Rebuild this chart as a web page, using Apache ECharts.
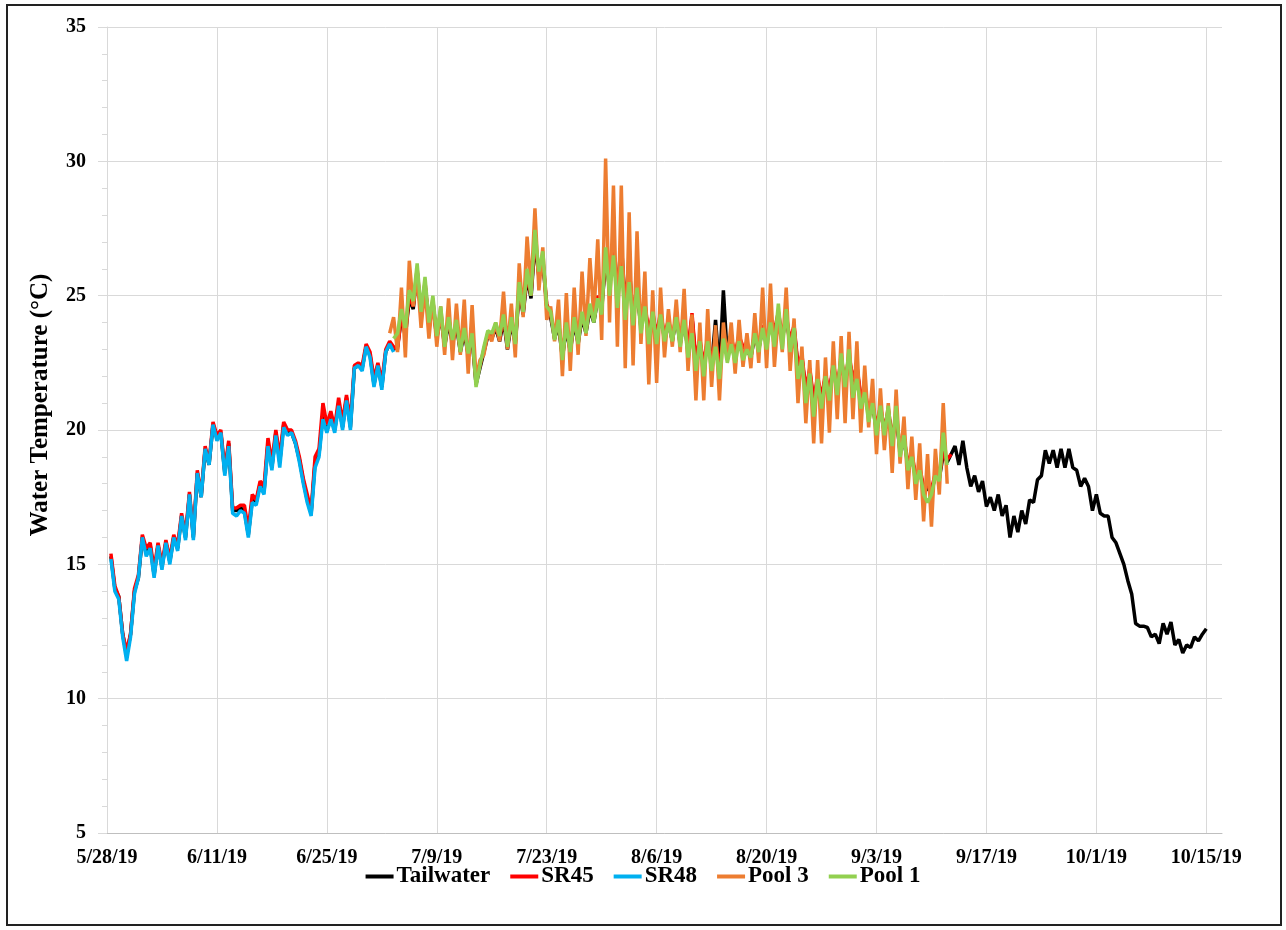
<!DOCTYPE html>
<html>
<head>
<meta charset="utf-8">
<script src="https://cdn.jsdelivr.net/npm/echarts@6/dist/echarts.min.js"></script>
<style>
html,body{margin:0;padding:0;background:#fff;}
#chart{width:1286px;height:930px;}
</style>
</head>
<body>
<div id="chart"></div>
<script>
// Day offsets are days since 5/28/19; samples every half day.
const baseDate = [2019, 4, 28];
const sampleStep = 0.5;
const xTickDays = [0, 14, 28, 42, 56, 70, 84, 98, 112, 126, 140];
const seriesNames = ['Tailwater', 'SR45', 'SR48', 'Pool 3', 'Pool 1'];
const seriesColors = ['#000000', '#ff0000', '#00b0f0', '#ed7d31', '#92d050'];

const tailwaterStart = 0.5;
const tailwater = [
  15.3,14.1,13.8,12.4,11.6,12.4,14.0,14.5,16.0,15.4,
  15.7,14.6,15.7,14.9,15.8,15.1,16.0,15.6,16.8,16.0,
  17.6,16.0,18.4,17.5,19.3,18.7,20.2,19.7,19.9,18.4,
  19.5,17.0,17.0,17.1,17.0,16.1,17.4,17.3,18.0,17.7,
  19.5,18.6,19.9,18.8,20.2,19.9,19.9,19.5,18.9,18.1,
  17.4,16.9,18.8,19.1,20.6,20.0,20.5,20.0,21.0,20.1,
  21.2,20.1,22.3,22.4,22.3,23.1,22.8,21.7,22.4,21.6,
  22.9,23.2,23.0,
  23.1,24.2,23.5,24.9,24.5,25.9,24.2,25.4,23.9,24.7,
  23.4,24.3,23.1,24.0,23.2,23.9,22.9,23.6,22.8,23.4,
  21.7,22.3,22.9,23.5,23.4,23.8,23.3,24.1,23.0,24.0,
  23.2,25.2,24.3,25.7,24.9,27.0,25.7,26.3,24.6,24.2,
  23.4,23.9,22.7,23.8,22.9,24.0,23.2,24.2,23.6,24.5,
  24.0,24.9,24.5,26.3,25.3,26.6,25.2,27.0,24.6,26.1,
  24.2,25.2,23.8,24.6,23.5,24.3,23.4,24.3,23.4,24.0,
  23.3,24.2,23.2,24.1,22.9,24.2,22.5,23.3,22.3,23.4,
  22.4,24.1,22.2,25.2,22.7,23.3,22.8,23.4,23.0,23.0,
  22.7,23.5,23.0,23.8,23.2,24.0,23.5,24.1,23.4,24.2,
  23.2,23.8,22.3,22.7,21.4,22.2,21.0,21.9,21.1,22.0,
  21.3,22.4,21.5,22.6,21.7,22.7,21.8,22.3,21.2,21.5,
  20.5,20.9,20.0,20.8,19.9,20.7,19.6,20.5,19.2,19.6,
  18.7,19.0,18.2,18.5,17.8,17.8,17.7,18.3,18.2,19.1,
  18.8,
  19.1,19.4,18.7,19.6,18.6,17.9,18.3,17.7,18.1,17.15,
  17.5,17.0,17.6,16.8,17.2,16.0,16.8,16.2,17.0,16.5,
  17.4,17.3,18.15,18.3,19.25,18.75,19.25,18.6,19.3,18.6,
  19.3,18.6,18.5,17.9,18.2,17.9,17.0,17.6,16.9,16.8,
  16.8,16.0,15.8,15.4,15.0,14.4,13.9,12.8,12.7,12.7,
  12.65,12.3,12.4,12.05,12.8,12.4,12.85,12.0,12.2,11.7,
  12.0,11.9,12.3,12.15,12.4,12.6
];

const sr45Start = 0.5;
const sr45 = [
  15.4,14.2,13.8,12.4,11.8,12.4,14.1,14.6,16.1,15.6,
  15.8,14.8,15.8,15.0,15.9,15.2,16.1,15.7,16.9,16.1,
  17.7,16.1,18.5,17.6,19.4,18.8,20.3,19.8,20.0,18.5,
  19.6,17.1,17.1,17.2,17.2,16.3,17.6,17.4,18.1,17.9,
  19.7,18.8,20.0,19.0,20.3,20.0,20.0,19.6,19.0,18.2,
  17.6,17.0,19.0,19.3,21.0,20.2,20.7,20.1,21.2,20.3,
  21.3,20.3,22.4,22.5,22.4,23.2,22.9,21.9,22.5,21.8,
  23.0,23.3,23.1,
  23.0,24.3,23.6,25.0,24.6,26.0,24.3,25.5,24.0,24.8,
  23.5,24.4,23.2,24.1,23.3,24.0,23.0,23.7,22.9,23.5,
  21.8,22.4,23.0,23.6,23.5,23.9,23.4,24.2,23.1,24.1,
  23.3,25.3,24.4,25.8,25.0,27.2,25.8,26.4,24.7,24.3,
  23.5,24.0,22.8,23.9,23.0,24.1,23.3,24.3,23.7,24.6,
  24.1,25.0,24.6,26.4,25.5,26.7,25.3,26.6,24.8,25.9,
  24.3,25.3,23.9,24.7,23.6,24.4,23.5,24.4,23.5,24.1,
  23.4,24.3,23.3,24.2,23.0,24.35,22.6,23.4,22.4,23.5,
  22.5,23.4,22.3,23.5,22.8,23.4,22.9,23.5,23.1,23.1,
  22.8,23.6,23.1,23.9,23.3,24.2,23.7,24.4,23.5,24.3,
  23.3,23.9,22.4,22.8,21.5,22.3,21.1,22.0,21.2,22.1,
  21.4,22.5,21.6,22.7,21.8,22.8,21.9,22.4,21.25,21.6,
  20.6,21.0,20.1,20.9,20.0,20.8,19.7,20.6,19.3,19.7,
  18.8,19.1,18.3,18.6,17.9,17.9,17.8,18.4,18.3,19.2,
  18.9,19.1
];

const sr48Start = 0.5;
const sr48 = [
  15.2,14.0,13.7,12.3,11.4,12.3,13.9,14.5,16.0,15.3,
  15.6,14.5,15.7,14.8,15.8,15.0,16.0,15.5,16.8,15.9,
  17.6,15.9,18.4,17.5,19.3,18.7,20.2,19.6,19.9,18.3,
  19.4,16.9,16.8,17.0,16.9,16.0,17.3,17.2,17.9,17.6,
  19.4,18.5,19.8,18.6,20.1,19.8,19.9,19.5,18.8,18.0,
  17.3,16.8,18.6,19.0,20.4,19.9,20.4,19.9,20.9,20.0,
  21.1,20.0,22.3,22.4,22.2,23.1,22.7,21.6,22.4,21.5,
  22.9,23.2,22.9
];

const pool3Start = 36.0;
const pool3 = [
  23.6,24.2,22.9,25.3,22.7,26.3,24.6,25.8,23.8,25.3,
  23.4,24.9,23.1,24.6,22.8,24.9,22.6,24.7,22.8,24.85,
  22.1,24.65,21.9,22.6,22.8,23.6,23.3,24.0,23.3,25.15,
  23.0,24.7,22.7,26.2,24.2,27.2,25.2,28.25,25.2,26.8,
  24.1,24.6,23.3,24.85,22.0,25.1,22.2,25.3,22.8,25.9,
  23.5,26.4,24.2,27.1,23.35,30.1,24.0,29.1,23.1,29.1,
  22.3,28.1,22.4,27.4,23.2,25.9,21.7,25.2,21.75,25.3,
  22.7,24.5,23.1,24.85,22.9,25.25,22.2,24.3,21.1,24.0,
  21.1,24.5,21.6,23.9,21.1,24.0,22.6,24.0,22.1,24.1,
  22.35,23.6,22.3,24.35,22.5,25.3,22.3,25.45,22.35,24.35,
  22.9,25.3,22.2,24.15,21.0,23.1,20.25,22.6,19.5,22.6,
  19.5,22.7,19.9,23.3,20.4,23.5,20.25,23.65,20.4,23.3,
  19.9,22.4,20.1,21.9,19.1,21.55,19.25,21.0,18.4,21.5,
  18.75,20.5,17.8,19.75,17.4,19.5,16.6,19.1,16.4,19.3,
  17.6,21.0,18.0
];

const pool1Start = 36.5;
const pool1 = [
  23.4,23.6,24.5,23.8,25.2,24.8,26.2,24.4,25.7,24.0,
  25.0,23.5,24.6,23.1,24.2,23.35,24.1,22.9,23.8,22.85,
  23.6,21.6,22.4,23.1,23.7,23.6,24.0,23.5,24.3,23.1,
  24.2,23.2,25.5,24.4,26.0,25.0,27.45,25.9,26.65,24.6,
  24.4,23.35,24.1,22.6,24.0,22.9,24.2,23.2,24.4,23.6,
  24.7,24.0,24.9,24.3,26.8,25.0,26.5,24.55,26.1,24.1,
  25.5,23.9,25.3,23.6,24.6,23.2,24.4,23.2,24.3,23.3,
  24.0,23.3,24.2,23.1,24.1,22.7,23.6,22.2,23.3,22.0,
  23.3,22.2,23.1,21.9,23.4,22.5,23.2,22.5,23.3,22.6,
  23.0,22.7,23.6,22.9,23.8,23.0,24.0,23.1,24.7,23.0,
  24.5,22.9,23.8,21.9,22.6,21.0,22.1,20.5,21.9,20.8,
  22.0,21.1,22.4,21.3,22.85,21.6,23.0,21.2,21.9,20.8,
  21.4,20.3,21.0,19.8,20.9,19.8,20.9,19.4,20.9,19.0,
  19.8,18.5,19.0,18.0,18.5,17.6,17.3,17.6,18.3,18.1,
  19.9,18.7
];

const seriesValues = [tailwater, sr45, sr48, pool3, pool1];
const seriesStarts = [tailwaterStart, sr45Start, sr48Start, pool3Start, pool1Start];

function toPairs(values, start) {
  return values.map((v, i) => [start + i * sampleStep, v]);
}
function dayLabel(day) {
  const d = new Date(Date.UTC(baseDate[0], baseDate[1], baseDate[2]) + day * 86400000);
  return (d.getUTCMonth() + 1) + '/' + d.getUTCDate() + '/' + String(d.getUTCFullYear()).slice(2);
}

const FONT = "'Liberation Serif', 'Times New Roman', serif";
const chart = echarts.init(document.getElementById('chart'), null, {renderer: 'canvas'});
chart.setOption({
  animation: false,
  backgroundColor: '#ffffff',
  graphic: [{
    type: 'rect',
    shape: {x: 7, y: 5, width: 1274, height: 920},
    style: {fill: 'none', stroke: '#222', lineWidth: 2},
    silent: true, z: 100
  }],
  grid: {left: 107, right: 64, top: 27, bottom: 97, containLabel: false},
  legend: {
    data: seriesNames,
    top: 860,
    left: 'center',
    icon: 'rect',
    itemWidth: 28,
    itemHeight: 4,
    itemGap: 20,
    textStyle: {fontFamily: FONT, fontWeight: 'bold', fontSize: 23, color: '#000', padding: [0, 0, 0, -2]}
  },
  xAxis: {
    type: 'value',
    min: 0,
    max: 142,
    interval: 14,
    axisLine: {show: true, lineStyle: {color: '#bfbfbf', width: 1}},
    axisTick: {show: false},
    splitLine: {show: true, showMaxLine: false, lineStyle: {color: '#d9d9d9', width: 1}},
    axisLabel: {
      margin: 15,
      fontFamily: FONT, fontWeight: 'bold', fontSize: 20, color: '#000',
      formatter: function (v) { return xTickDays.indexOf(v) >= 0 ? dayLabel(v) : ''; }
    }
  },
  yAxis: {
    type: 'value',
    min: 5,
    max: 35,
    interval: 5,
    name: 'Water Temperature (\u00B0C)',
    nameLocation: 'middle',
    nameGap: 54,
    nameRotate: 90,
    nameTextStyle: {fontFamily: FONT, fontWeight: 'bold', fontSize: 25, color: '#000', padding: [0, 0, 0, 50]},
    axisLine: {show: true, lineStyle: {color: '#d9d9d9', width: 1}},
    axisTick: {show: true, length: 9, lineStyle: {color: '#d9d9d9'}},
    minorTick: {show: true, splitNumber: 5, length: 5, lineStyle: {color: '#d9d9d9'}},
    splitLine: {show: true, lineStyle: {color: '#d9d9d9', width: 1}},
    axisLabel: {margin: 21, fontFamily: FONT, fontWeight: 'bold', fontSize: 20, color: '#000'}
  },
  series: seriesNames.map((name, k) => ({
    name: name,
    type: 'line',
    data: toPairs(seriesValues[k], seriesStarts[k]),
    showSymbol: false,
    symbol: 'none',
    color: seriesColors[k],
    lineStyle: {color: seriesColors[k], width: 3.5},
    z: 2 + k
  }))
});
</script>
</body>
</html>
